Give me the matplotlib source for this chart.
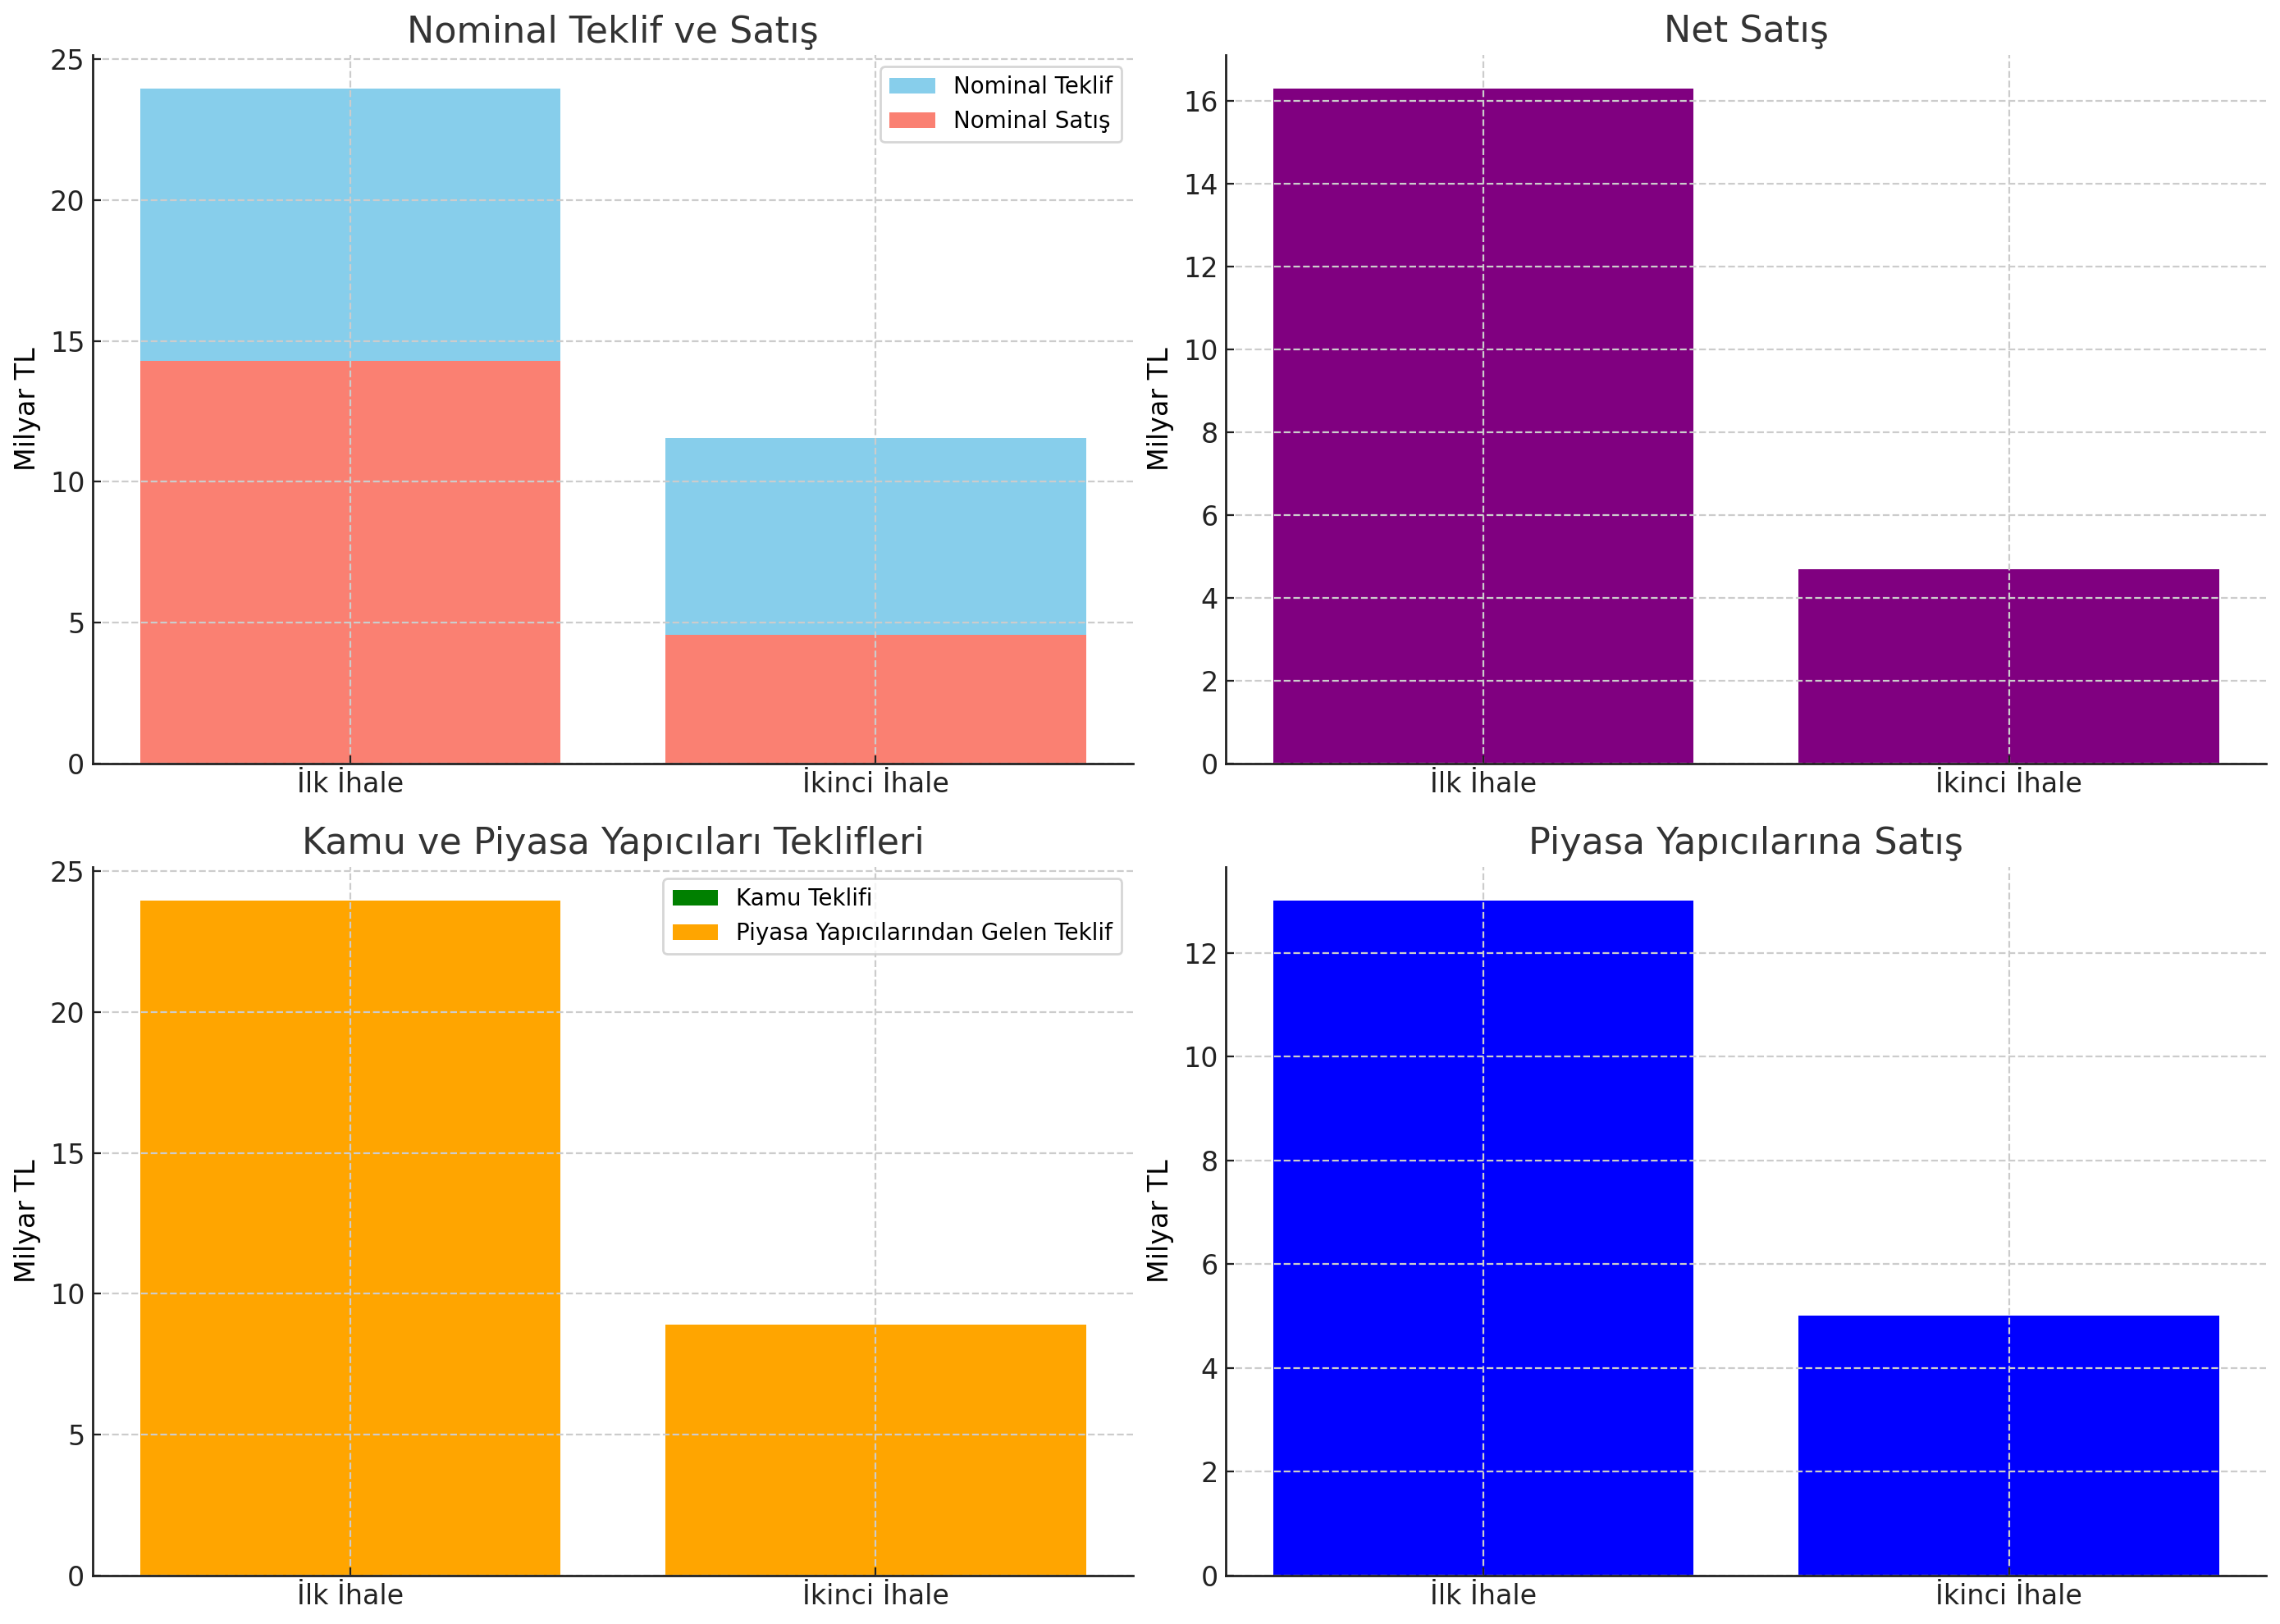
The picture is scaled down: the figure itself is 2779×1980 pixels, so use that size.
import matplotlib
matplotlib.use("Agg")
import matplotlib.pyplot as plt
import numpy as np

# data (milyar TL)
ihaleler = ["İlk İhale", "İkinci İhale"]
nominal_teklif = [23.95, 11.55]
nominal_satis = [14.3, 4.55]
net_satis = [16.28, 4.68]
kamu_teklifi = [0.0, 0.0]
piyasa_teklif = [23.95, 8.9]
piyasa_satis = [13.0, 5.0]

plt.rcParams.update({
    "font.family": ["DejaVu Sans"],
    "axes.spines.top": False,
    "axes.spines.right": False,
    "axes.edgecolor": "#222222",
    "axes.linewidth": 1.0,
    "axes.titlecolor": "#333333",
    "axes.titlesize": 16,
    "axes.labelsize": 12,
    "xtick.labelsize": 12,
    "ytick.labelsize": 12,
    "xtick.direction": "in",
    "ytick.direction": "in",
    "xtick.color": "#222222",
    "ytick.color": "#222222",
    "grid.color": "#cccccc",
    "grid.linestyle": "--",
    "grid.linewidth": 0.8,
    "legend.fontsize": 10,
})

fig, axes = plt.subplots(2, 2, figsize=(13.895, 9.9), dpi=200)
x = np.arange(len(ihaleler))


def style(ax, title):
    ax.set_title(title)
    ax.set_ylabel("Milyar TL")
    ax.set_xticks(x)
    ax.set_xticklabels(ihaleler)
    ax.grid(True)
    ax.set_axisbelow("line")


ax = axes[0, 0]
ax.bar(x, nominal_teklif, color="skyblue", label="Nominal Teklif")
ax.bar(x, nominal_satis, color="salmon", label="Nominal Satış")
style(ax, "Nominal Teklif ve Satış")
ax.legend(loc="upper right")

ax = axes[0, 1]
ax.bar(x, net_satis, color="purple")
style(ax, "Net Satış")

ax = axes[1, 0]
ax.bar(x, kamu_teklifi, color="green", label="Kamu Teklifi")
ax.bar(x, piyasa_teklif, color="orange", label="Piyasa Yapıcılarından Gelen Teklif")
style(ax, "Kamu ve Piyasa Yapıcıları Teklifleri")
ax.legend(loc="upper right")

ax = axes[1, 1]
ax.bar(x, piyasa_satis, color="blue")
style(ax, "Piyasa Yapıcılarına Satış")

fig.tight_layout(pad=0.6, h_pad=1.2)
fig.savefig("out.png", dpi=200)
